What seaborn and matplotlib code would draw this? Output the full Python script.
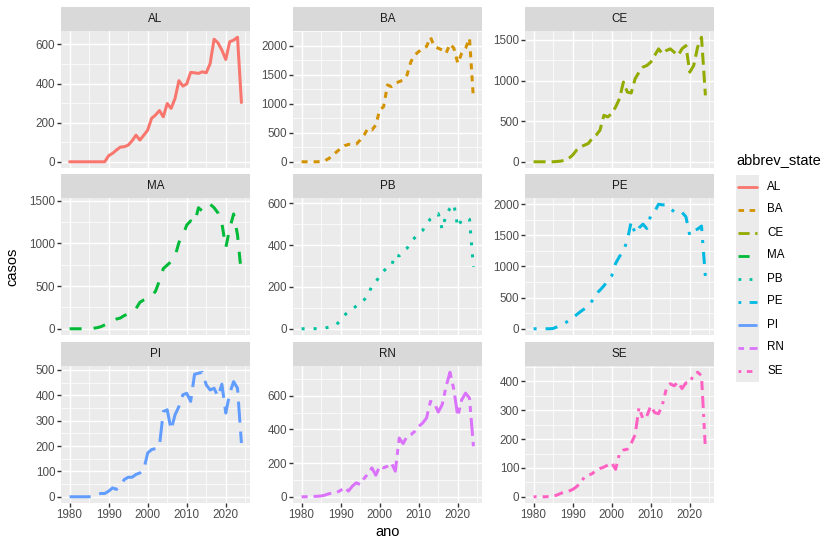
import numpy as np
import pandas as pd
import matplotlib
matplotlib.use("Agg")
import matplotlib.pyplot as plt
from matplotlib.ticker import MultipleLocator
from matplotlib.patches import Rectangle
import seaborn as sns

# casos por estado, 1980-2024
years = list(range(1980, 2025))
states = ["AL", "BA", "CE", "MA", "PB", "PE", "PI", "RN", "SE"]

al = [0, 0, 0, 0, 0, 0, 0, 0, 0, 0,
      31, 43, 60, 75, 77, 85, 107, 136, 111, 136,
      162, 222, 239, 262, 230, 298, 273, 324, 415, 387,
      398, 457, 455, 452, 460, 455, 503, 627, 608, 571,
      523, 614, 622, 637, 303]
ba = [0, 0, 0, 0, 0, 5, 20, 57, 115, 173,
      230, 277, 300, 300, 305, 375, 461, 576, 548, 634,
      893, 951, 1326, 1297, 1355, 1383, 1412, 1499, 1729, 1844,
      1902, 1960, 1989, 2150, 1989, 1960, 1931, 1873, 2035, 1960,
      1700, 1873, 1960, 2133, 1095]
ce = [0, 0, 0, 0, 0, 0, 4, 8, 20, 41,
      82, 143, 184, 204, 225, 286, 327, 388, 572, 552,
      593, 674, 777, 981, 858, 846, 1022, 1103, 1165, 1185,
      1226, 1308, 1390, 1328, 1369, 1390, 1349, 1308, 1390, 1430,
      1103, 1185, 1410, 1533, 817]
ma = [0, 0, 0, 0, 0, 2, 5, 12, 24, 45,
      65, 94, 114, 126, 155, 175, 187, 236, 310, 338,
      359, 379, 440, 562, 705, 746, 787, 848, 1011, 1092,
      1215, 1264, 1235, 1418, 1378, 1439, 1459, 1418, 1357, 1235,
      950, 1174, 1345, 1100, 636]
pb = [0, 0, 0, 0, 1, 2, 3, 8, 14, 20,
      45, 65, 82, 95, 108, 120, 138, 160, 205, 225,
      250, 275, 295, 300, 355, 348, 370, 385, 410, 436,
      455, 470, 500, 525, 538, 550, 475, 545, 575, 595,
      485, 520, 530, 523, 295]
pe = [0, 0, 0, 0, 0, 5, 30, 60, 90, 130,
      180, 225, 275, 320, 370, 450, 560, 620, 690, 770,
      850, 1050, 1160, 1250, 1420, 1720, 1530, 1620, 1680, 1610,
      1820, 1880, 2000, 1990, 1990, 1930, 1880, 1850, 1870, 1800,
      1500, 1580, 1600, 1650, 830]
pi = [0, 0, 0, 0, 0, 0, 3, 9, 13, 13,
      22, 35, 29, 42, 68, 77, 77, 88, 94, 107,
      173, 186, 190, 199, 336, 343, 264, 323, 356, 402,
      408, 376, 483, 487, 491, 441, 421, 428, 395, 444,
      330, 408, 454, 428, 212]
rn = [0, 0, 2, 2, 3, 5, 10, 18, 22, 26,
      38, 57, 34, 63, 83, 73, 109, 136, 172, 128,
      182, 172, 182, 201, 152, 349, 316, 359, 369, 389,
      418, 438, 468, 567, 557, 503, 547, 655, 740, 636,
      478, 576, 616, 586, 300]
se = [0, 0, 0, 0, 1, 2, 6, 12, 17, 20,
      25, 35, 48, 68, 75, 80, 92, 98, 103, 110,
      118, 95, 150, 162, 165, 185, 215, 310, 270, 280,
      315, 292, 288, 320, 375, 392, 385, 398, 375, 395,
      395, 425, 432, 420, 165]

series = [al, ba, ce, ma, pb, pe, pi, rn, se]
df = pd.concat([pd.DataFrame({"ano": years, "casos": v, "abbrev_state": s})
                for s, v in zip(states, series)], ignore_index=True)

# ggplot default hue palette and linetypes
colors = ["#F8766D", "#D39200", "#93AA00", "#00BA38", "#00C19F",
          "#00B9E3", "#619CFF", "#DB72FB", "#FF61C3"]
dash_list = ["", (2, 2), (4, 2), (4, 4), (1, 3), (1, 3, 4, 3), (7, 3),
             (2, 2, 6, 2), (1, 2, 2, 2, 3, 2, 4, 2)]
palette = dict(zip(states, colors))
dashes = dict(zip(states, dash_list))
y_step = dict(zip(states, [200, 500, 500, 500, 200, 500, 100, 200, 100]))

sns.set_theme(style="darkgrid")
plt.rcParams["font.family"] = ["Liberation Sans", "DejaVu Sans"]

W, H = 834, 548
fig = plt.figure(figsize=(W / 100, H / 100), dpi=100)

col_x = [61, 293, 525]
row_top = [31, 198, 366]
pw, ph = 189, 137
strip_h = 24

for i, s in enumerate(states):
    r, c = divmod(i, 3)
    x0 = col_x[c]
    y0 = row_top[r]
    ax = fig.add_axes([x0 / W, 1 - (y0 + ph) / H, pw / W, ph / H])
    ax.set_facecolor("#EBEBEB")
    sub = df[df["abbrev_state"] == s]
    sns.lineplot(data=sub, x="ano", y="casos", hue="abbrev_state",
                 style="abbrev_state", palette=palette, dashes=dashes,
                 linewidth=2.16, legend=False, ax=ax)
    ax.set_xlim(1977.8, 2026.2)
    ax.margins(y=0.05)
    ax.xaxis.set_major_locator(MultipleLocator(10))
    ax.xaxis.set_minor_locator(MultipleLocator(5))
    ax.yaxis.set_major_locator(MultipleLocator(y_step[s]))
    ax.yaxis.set_minor_locator(MultipleLocator(y_step[s] / 2))
    ax.grid(which="major", color="white", linewidth=1.02)
    ax.grid(which="minor", color="white", linewidth=0.51)
    for sp in ax.spines.values():
        sp.set_visible(False)
    ax.set_xlabel("")
    ax.set_ylabel("")
    ax.tick_params(axis="y", which="major", left=True, length=2.64, width=1.0,
                   color="#333333", labelsize=8.4, labelcolor="#4D4D4D", pad=1.5)
    ax.tick_params(which="minor", length=0)
    if r == 2:
        ax.tick_params(axis="x", which="major", bottom=True, length=2.64, width=1.0,
                       color="#333333", labelsize=8.4, labelcolor="#4D4D4D", pad=1.5)
    else:
        ax.tick_params(axis="x", which="major", bottom=False, labelbottom=False)
    # strip
    ax.add_patch(Rectangle((0, 1), 1, strip_h / ph, transform=ax.transAxes,
                           facecolor="#D9D9D9", edgecolor="none", clip_on=False))
    ax.text(0.5, 1 + strip_h / ph / 2, s, transform=ax.transAxes, ha="center",
            va="center", fontsize=8.4, color="#1A1A1A")

fig.text(12 / W, 1 - 267 / H, "casos", rotation=90, ha="center", va="center",
         fontsize=10.5, color="black")
fig.text(388 / W, 1 - 532 / H, "ano", ha="center", va="center",
         fontsize=10.5, color="black")

# legend
key = 23
lx, ly = 736, 175
fig.text(lx / W, 1 - 160 / H, "abbrev_state", ha="left", va="center",
         fontsize=10.5, color="black")
lax = fig.add_axes([lx / W, 1 - (ly + key * 9) / H, key / W, key * 9 / H])
lax.set_facecolor("#EBEBEB")
lax.set_xlim(0, 1)
lax.set_ylim(9, 0)
lax.set_axis_off()
lax.add_patch(Rectangle((0, 0), 1, 9, facecolor="#EBEBEB", edgecolor="none"))
for i, s in enumerate(states):
    kw = {} if dashes[s] == "" else {"dashes": dashes[s]}
    lax.plot([0.08, 0.92], [i + 0.5, i + 0.5], color=palette[s], linewidth=2.0, **kw)
    lax.text(1.35, i + 0.5, s, ha="left", va="center", fontsize=8.4,
             color="black", transform=lax.transData, clip_on=False)

fig.savefig("out.png", dpi=100)
